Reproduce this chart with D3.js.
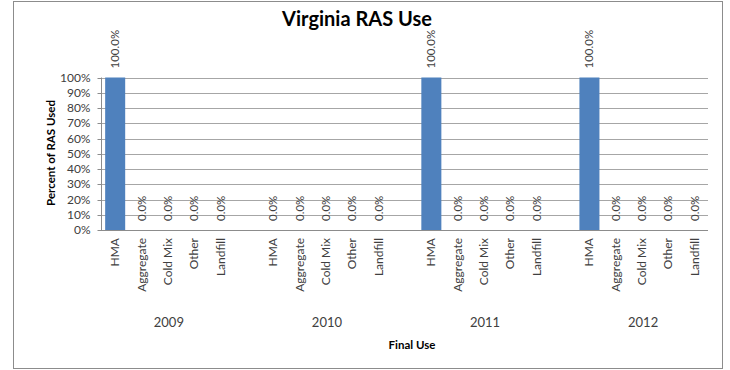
<!DOCTYPE html>
<html><head><meta charset="utf-8">
<script src="https://cdn.jsdelivr.net/npm/d3@7"></script>
<style>
body{margin:0;background:#fff;}
text{font-family:Lato,"Open Sans",sans-serif;}
</style></head>
<body><svg id="c" width="730" height="370"></svg>
<script>
const years = ["2009","2010","2011","2012"];
const uses = ["HMA","Aggregate","Cold Mix","Other","Landfill"];
const values2009 = [1.0,0,0,0,0];
const values2010 = [0,0,0,0,0];
const values2011 = [1.0,0,0,0,0];
const values2012 = [1.0,0,0,0,0];
const yTicks = [0,0.1,0.2,0.3,0.4,0.5,0.6,0.7,0.8,0.9,1.0];
const title = "Virginia RAS Use";
const yTitle = "Percent of RAS Used";
const xTitle = "Final Use";

const seriesByYear = [values2009, values2010, values2011, values2012];
const slots = [];
years.forEach((yr,i)=>{
  uses.forEach((u,j)=>slots.push({key:yr+"|"+u, year:yr, use:u, value:seriesByYear[i][j]}));
  if(i<years.length-1) slots.push({key:"gap"+i, gap:true});
});

const svg = d3.select("#c");
const pLeft=102, pRight=708, pTop=77.5, pBottom=230;

svg.append("rect").attr("x",13.5).attr("y",1.5).attr("width",709).attr("height",367)
  .attr("fill","#fff").attr("stroke","#8c8c8c").attr("stroke-width",1);

const x = d3.scaleBand().domain(slots.map(d=>d.key)).range([pLeft,pRight]).paddingInner(0.24).paddingOuter(0.12);
const y = d3.scaleLinear().domain([0,1]).range([pBottom,pTop]);

svg.append("g").selectAll("line").data(yTicks.filter(t=>t>0)).join("line")
  .attr("x1",101).attr("x2",pRight).attr("y1",d=>Math.round(y(d))+0.5).attr("y2",d=>Math.round(y(d))+0.5)
  .attr("stroke","#a6a6a6").attr("stroke-width",1);

const yAxis = d3.axisLeft(y).tickValues(yTicks).tickFormat(d3.format(".0%")).tickSize(4).tickPadding(7);
const gy = svg.append("g").attr("transform","translate(101.5,0)").call(yAxis);
gy.select(".domain").attr("stroke","#8c8c8c").attr("d","M0,"+pTop+"V"+pBottom);
gy.selectAll(".tick line").attr("stroke","#8c8c8c");
gy.selectAll(".tick text").attr("font-size","12px").attr("fill","#404040").attr("font-family","Lato");
gy.selectAll(".tick").attr("transform",d=>"translate(0,"+(Math.round(y(d))+0.5)+")");

svg.append("line").attr("x1",101).attr("x2",pRight).attr("y1",pBottom+0.5).attr("y2",pBottom+0.5)
  .attr("stroke","#8c8c8c");

const data = slots.filter(d=>!d.gap);
svg.append("g").selectAll("rect").data(data.filter(d=>d.value>0)).join("rect")
  .attr("x",d=>x(d.key)).attr("width",x.bandwidth())
  .attr("y",d=>y(d.value)).attr("height",d=>y(0)-y(d.value))
  .attr("fill","#4f81bd");

svg.append("g").selectAll("text").data(data).join("text")
  .attr("transform",d=>`translate(${x(d.key)+x.bandwidth()/2+4},${y(d.value)-9}) rotate(-90)`)
  .attr("font-size","11.5px").attr("fill","#404040").attr("text-anchor","start")
  .text(d=>d3.format(".1%")(d.value));

svg.append("g").selectAll("text").data(data).join("text")
  .attr("transform",d=>`translate(${x(d.key)+x.bandwidth()/2+4},${pBottom+8}) rotate(-90)`)
  .attr("font-size","12px").attr("fill","#404040").attr("text-anchor","end")
  .text(d=>d.use);

svg.append("g").selectAll("text").data(years).join("text")
  .attr("x",yr=>x(yr+"|Cold Mix")+x.bandwidth()/2+1).attr("y",327)
  .attr("font-size","13px").attr("fill","#404040").attr("text-anchor","middle")
  .text(d=>d);

svg.append("text").attr("x",357).attr("y",26).attr("text-anchor","middle")
  .attr("font-size","20px").attr("font-weight","bold").attr("fill","#000").text(title);
svg.append("text").attr("transform",`translate(55,153) rotate(-90)`).attr("text-anchor","middle")
  .attr("font-size","11.5px").attr("font-weight","bold").attr("fill","#000").text(yTitle);
svg.append("text").attr("x",412).attr("y",349).attr("text-anchor","middle")
  .attr("font-size","11.5px").attr("font-weight","bold").attr("fill","#000").text(xTitle);
</script></body></html>
